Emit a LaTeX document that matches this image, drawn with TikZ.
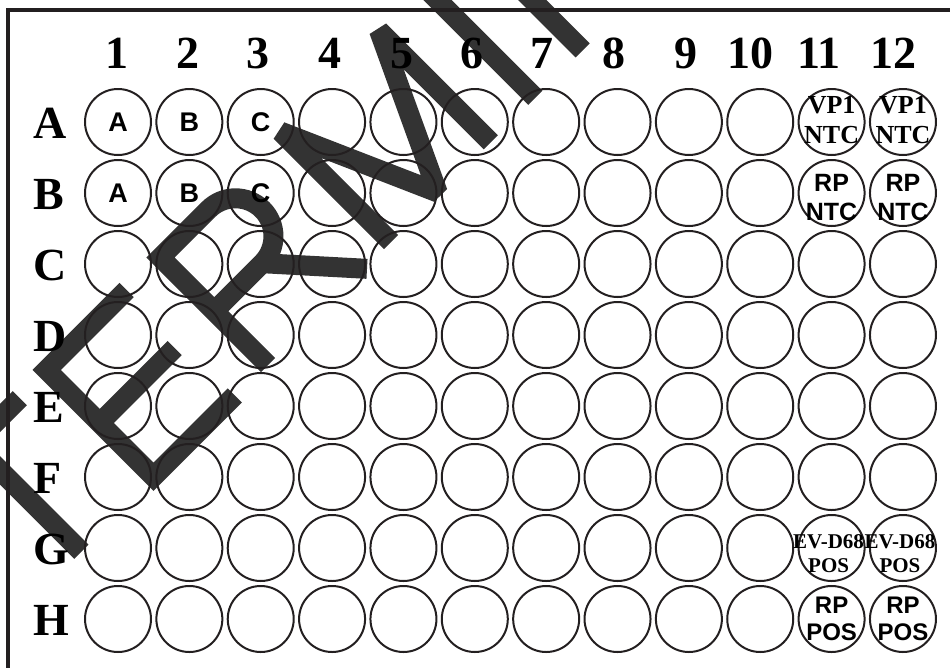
\documentclass[tikz,border=0pt]{standalone}
\usepackage{fontspec}
\setmainfont{Liberation Serif}
\newfontfamily\platesans{Liberation Sans}
\definecolor{plateink}{RGB}{35, 31, 32}
\definecolor{markgrey}{RGB}{51, 51, 51}
\usepackage{tikz}
\usetikzlibrary{calc}

\tikzset{
  well/.style={circle, draw=plateink, line width=2pt, minimum size=66pt, inner sep=0pt},
  rowlabel/.style={anchor=base west, inner sep=0pt, font=\fontsize{46}{46}\selectfont\bfseries},
  collabel/.style={anchor=base, inner sep=0pt, font=\fontsize{46}{46}\selectfont\bfseries},
  samplelabel/.style={inner sep=0pt, font=\platesans\fontsize{27}{27}\selectfont\bfseries},
  serifctrl/.style={inner sep=0pt, align=center, font=\fontsize{26}{30}\selectfont\bfseries},
  sansctrl/.style={inner sep=0pt, align=center, font=\platesans\fontsize{25}{29}\selectfont\bfseries},
  smallctrl/.style={inner sep=0pt, align=center, font=\fontsize{21}{24}\selectfont\bfseries},
  plateframe/.style={draw=plateink, line width=4pt},
  markstroke/.style={draw=markgrey, line width=20pt}
}

\begin{document}
\begin{tikzpicture}[x=1pt, y=-1pt]
  \useasboundingbox (0,0) rectangle (950,667);
  \clip (0,0) rectangle (950,667);

  % watermark letters, drawn underneath the plate
  \begin{scope}[shift={(268pt,-365pt)}, x=1pt, y=1pt, rotate=45, markstroke]
    \draw (-264,0) -- (-264,152);
    \draw (-330,152) -- (-199,152);
    \draw[line join=miter] (-47,153) -- (-160,153) -- (-160,2) -- (-45,2);
    \draw (-160,78) -- (-54,78);
    \draw[line join=miter] (0,0) -- (0,152) -- (68,152) arc (90:-90:38) -- (0,76);
    \draw (68,76) -- (138,-2);
    \draw[line join=bevel] (174,0) -- (174,156) -- (242,2) -- (315,158) -- (315,0);
    \draw (378,0) -- (378,165);
    \draw (445,0) -- (445,165);
  \end{scope}

  % wells and row letters
  \foreach \r [count=\i] in {A,B,C,D,E,F,G,H} {
    \node[rowlabel] (row\r) at (33, {138+71*(\i-1)}) {\r};
    \foreach \c in {1,...,12}
      \node[well] (\r\c) at ({118+71.36*(\c-1)}, {122+71*(\i-1)}) {};
  }

  % column numbers
  \foreach \lx [count=\c] in {117,188,258,330,402,472,542,614,686,750,819,893}
    \node[collabel] (col\c) at (\lx, 68.5) {\c};

  % sample and control wells
  \foreach \c/\t in {1/A, 2/B, 3/C} {
    \node[samplelabel] at (A\c) {\t};
    \node[samplelabel] at (B\c) {\t};
  }
  \foreach \c in {11,12} {
    \node[serifctrl, yshift=2pt] at (A\c) {VP1\\NTC};
    \node[sansctrl, yshift=-4.5pt] at (B\c) {RP\\NTC};
    \node[smallctrl, xshift=-3pt, yshift=-6pt] at (G\c) {EV-D68\\POS};
    \node[sansctrl, font=\platesans\fontsize{24}{27}\selectfont\bfseries] at (H\c) {RP\\POS};
  }

  \draw[plateframe] (8,690) -- (8,9.5) -- (970,9.5);
\end{tikzpicture}
\end{document}
